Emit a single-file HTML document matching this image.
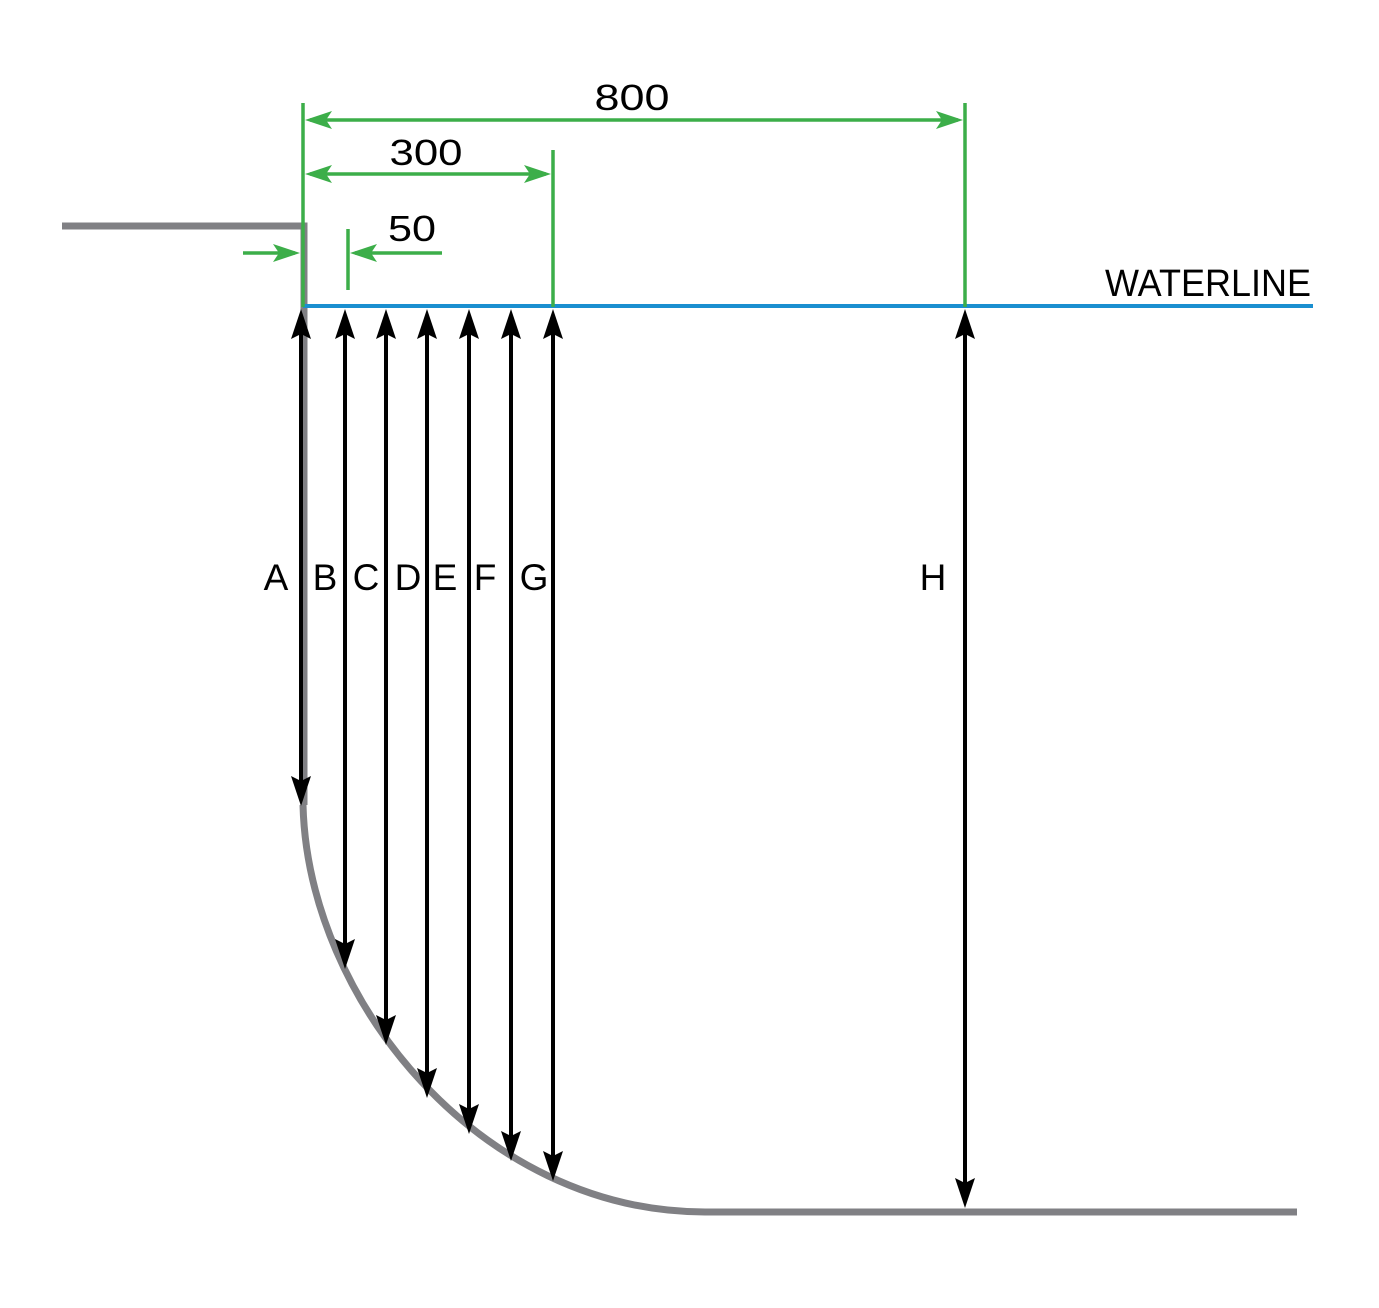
<!DOCTYPE html>
<html><head><meta charset="utf-8"><style>html,body{margin:0;padding:0;background:#fff}svg{display:block}</style></head>
<body>
<svg width="1379" height="1308" viewBox="0 0 1379 1308" xmlns="http://www.w3.org/2000/svg">
<g fill="none" stroke="#808084" stroke-width="7">
<polyline points="62,226 304,226 304,805"/>
<path d="M303,805 C308,1000 480,1212 705,1212 L1297,1212"/>
</g>
<line x1="303" y1="306" x2="1313" y2="306" stroke="#1a8fd0" stroke-width="4"/>
<g stroke="#3cae49" stroke-width="3.5" fill="none">
<line x1="303" y1="103" x2="303" y2="307"/>
<line x1="553" y1="150" x2="553" y2="307"/>
<line x1="965" y1="103" x2="965" y2="307"/>
<line x1="348" y1="229" x2="348" y2="290"/>
<line x1="310" y1="120" x2="958" y2="120"/>
<line x1="310" y1="174" x2="546" y2="174"/>
<line x1="243" y1="253" x2="295" y2="253"/>
<line x1="442" y1="253" x2="355" y2="253"/>
</g>
<g fill="#3cae49">
<path d="M305,120 l27,-9 l-6,9 l6,9 z"/>
<path d="M963,120 l-27,-9 l6,9 l-6,9 z"/>
<path d="M305,174 l27,-9 l-6,9 l6,9 z"/>
<path d="M551,174 l-27,-9 l6,9 l-6,9 z"/>
<path d="M300,253 l-27,-9 l6,9 l-6,9 z"/>
<path d="M350,253 l27,-9 l-6,9 l6,9 z"/>
</g>
<g stroke="#000" stroke-width="4">
<line x1="301" y1="320" x2="301" y2="795"/>
<line x1="345" y1="320" x2="345" y2="958"/>
<line x1="386" y1="320" x2="386" y2="1034"/>
<line x1="427" y1="320" x2="427" y2="1087"/>
<line x1="469" y1="320" x2="469" y2="1123"/>
<line x1="511" y1="320" x2="511" y2="1150"/>
<line x1="553" y1="320" x2="553" y2="1170"/>
<line x1="965" y1="320" x2="965" y2="1197"/>
</g>
<g fill="#000">
<path d="M301,309 l-10,30 l10,-5 l10,5 z"/><path d="M301,806 l-10,-30 l10,5 l10,-5 z"/>
<path d="M345,309 l-10,30 l10,-5 l10,5 z"/><path d="M345,969 l-10,-30 l10,5 l10,-5 z"/>
<path d="M386,309 l-10,30 l10,-5 l10,5 z"/><path d="M386,1045 l-10,-30 l10,5 l10,-5 z"/>
<path d="M427,309 l-10,30 l10,-5 l10,5 z"/><path d="M427,1098 l-10,-30 l10,5 l10,-5 z"/>
<path d="M469,309 l-10,30 l10,-5 l10,5 z"/><path d="M469,1134 l-10,-30 l10,5 l10,-5 z"/>
<path d="M511,309 l-10,30 l10,-5 l10,5 z"/><path d="M511,1161 l-10,-30 l10,5 l10,-5 z"/>
<path d="M553,309 l-10,30 l10,-5 l10,5 z"/><path d="M553,1181 l-10,-30 l10,5 l10,-5 z"/>
<path d="M965,309 l-10,30 l10,-5 l10,5 z"/><path d="M965,1208 l-10,-30 l10,5 l10,-5 z"/>
</g>
<g font-family="'Liberation Sans', 'DejaVu Sans', sans-serif" fill="#000" font-size="36">
<text x="632" y="110" text-anchor="middle" textLength="75" lengthAdjust="spacingAndGlyphs">800</text>
<text x="426" y="165" text-anchor="middle" textLength="73" lengthAdjust="spacingAndGlyphs">300</text>
<text x="412" y="241" text-anchor="middle" textLength="48" lengthAdjust="spacingAndGlyphs">50</text>
<text x="1105" y="296" font-size="38" textLength="206" lengthAdjust="spacingAndGlyphs">WATERLINE</text>
<g font-size="37" text-anchor="middle">
<text x="276" y="590">A</text>
<text x="325" y="590">B</text>
<text x="366" y="590">C</text>
<text x="408" y="590">D</text>
<text x="445" y="590">E</text>
<text x="485" y="590">F</text>
<text x="534" y="590">G</text>
<text x="933" y="590">H</text>
</g>
</g>
</svg>
</body></html>
